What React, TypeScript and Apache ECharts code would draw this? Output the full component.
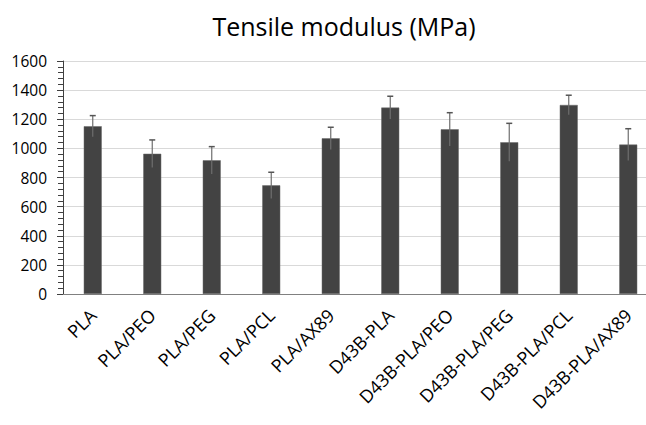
import React, { useEffect, useRef } from "react";
import * as echarts from "echarts";

const categories = [
  "PLA",
  "PLA/PEO",
  "PLA/PEG",
  "PLA/PCL",
  "PLA/AX89",
  "D43B-PLA",
  "D43B-PLA/PEO",
  "D43B-PLA/PEG",
  "D43B-PLA/PCL",
  "D43B-PLA/AX89",
];
const modulus = [1152, 963, 918, 746, 1069, 1280, 1131, 1042, 1298, 1026];
const errors = [73, 95, 94, 90, 76, 78, 114, 130, 67, 109];
const yTicks = [0, 200, 400, 600, 800, 1000, 1200, 1400, 1600];

const FONT = "'Open Sans', 'Noto Sans', sans-serif";

export default function App() {
  const ref = useRef<HTMLDivElement>(null);
  useEffect(() => {
    if (!ref.current) return;
    const chart = echarts.init(ref.current, null, { renderer: "svg" });
    const errData = categories.map((_, i) => [i, modulus[i] - errors[i], modulus[i] + errors[i]]);
    chart.setOption({
      animation: false,
      title: {
        text: "Tensile modulus (MPa)",
        left: 339,
        textAlign: "center",
        top: 8,
        textStyle: { fontFamily: FONT, fontSize: 25, fontWeight: "normal", color: "#000" },
      },
      grid: { left: 63, top: 61, width: 595, height: 233, containLabel: false, outerBoundsMode: "none" },
      xAxis: {
        type: "category",
        data: categories,
        axisLine: { lineStyle: { color: "#808080", width: 1 } },
        axisTick: { show: false },
        axisLabel: {
          rotate: 45,
          interval: 0,
          margin: 18,
          fontFamily: FONT,
          fontSize: 18,
          color: "#000",
        },
      },
      yAxis: {
        type: "value",
        min: yTicks[0],
        max: yTicks[yTicks.length - 1],
        interval: 200,
        axisLine: { show: true, lineStyle: { color: "#404040", width: 1 } },
        axisTick: { show: true, length: 6, lineStyle: { color: "#404040" } },
        minorTick: { show: true, splitNumber: 5, length: 5, lineStyle: { color: "#404040" } },
        splitLine: { lineStyle: { color: "#d9d9d9", width: 1 } },
        axisLabel: {
          fontFamily: FONT,
          fontSize: 15.5,
          color: "#000",
          margin: 16,
          formatter: (v: number) => String(v),
        },
      },
      series: [
        {
          type: "bar",
          data: modulus,
          barWidth: 18,
          itemStyle: { color: "#434343", borderColor: "#6a6a6a", borderWidth: 0.5 },
        },
        {
          type: "custom",
          data: errData,
          z: 10,
          renderItem: (params: any, api: any) => {
            const x = api.value(0);
            const lo = api.coord([x, api.value(1)]);
            const hi = api.coord([x, api.value(2)]);
            const cap = 3;
            const style = { stroke: "#6e6e6e", lineWidth: 1.2 };
            return {
              type: "group",
              children: [
                { type: "line", shape: { x1: hi[0], y1: hi[1], x2: lo[0], y2: lo[1] }, style },
                { type: "line", shape: { x1: hi[0] - cap, y1: hi[1], x2: hi[0] + cap, y2: hi[1] }, style: { stroke: "#555", lineWidth: 1.5 } },
              ],
            };
          },
        },
      ],
    });
    return () => chart.dispose();
  }, []);
  return (
    <div
      ref={ref}
      style={{ position: "absolute", left: 0, top: 0, width: 646, height: 425 }}
    />
  );
}
